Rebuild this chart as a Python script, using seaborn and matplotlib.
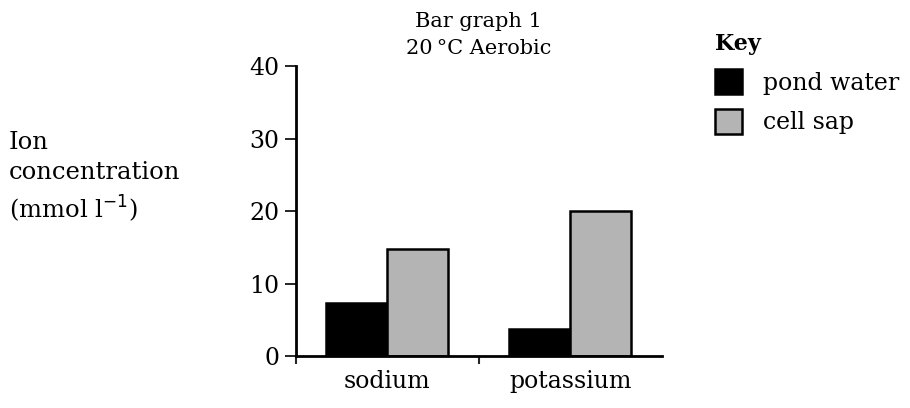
import pandas as pd
import matplotlib
matplotlib.use("Agg")
import matplotlib.pyplot as plt
import seaborn as sns

# data
ions = ["sodium", "potassium"]
pond_water = [7.3, 3.7]
cell_sap = [14.8, 20.0]
y_ticks = [0, 10, 20, 30, 40]

df = pd.DataFrame({
    "ion": ions * 2,
    "value": pond_water + cell_sap,
    "source": ["pond water"] * 2 + ["cell sap"] * 2,
})

sns.set_theme(style="white")
plt.rcParams["font.family"] = ["DejaVu Serif"]
plt.rcParams["text.color"] = "black"

fig = plt.figure(figsize=(9.1, 4.08), dpi=100)
ax = fig.add_axes([0.325, 0.1275, 0.402, 0.71])

sns.barplot(data=df, x="ion", y="value", hue="source",
            palette={"pond water": "black", "cell sap": "#b4b4b4"},
            width=0.67, edgecolor="black", linewidth=1.8, ax=ax)

ax.set_xlim(-0.5, 1.5)
ax.set_ylim(0, 40)
ax.set_yticks(y_ticks)
ax.set_xlabel("")
ax.set_ylabel("")
sns.despine(ax=ax)
for s in ["left", "bottom"]:
    ax.spines[s].set_linewidth(2)
    ax.spines[s].set_color("black")

ax.tick_params(axis="y", direction="out", length=8, width=1.2, labelsize=17, pad=4,
               left=True, colors="black")
ax.tick_params(axis="x", which="major", length=0, labelsize=17, pad=10, colors="black")
ax.set_xticks([-0.5, 0.5], minor=True)
ax.tick_params(axis="x", which="minor", direction="out", length=6, width=1.5, bottom=True)

ax.set_title("Bar graph 1\n20\u2009°C Aerobic", fontsize=15, pad=9, linespacing=1.55,
             color="black")

leg = ax.legend(title="Key", loc="upper left", bbox_to_anchor=(1.145, 1.115),
                frameon=False, fontsize=17, handlelength=1.15, handleheight=1.25,
                handletextpad=0.9, labelspacing=0.6, borderaxespad=0, borderpad=0)
leg.get_title().set_fontweight("bold")
leg.get_title().set_fontsize(16)
leg._legend_box.align = "left"
for t in leg.get_texts():
    t.set_color("black")

fig.text(0.01, 0.565, "Ion\nconcentration\n(mmol l$^{-1}$)", fontsize=17.5,
         ha="left", va="center", linespacing=1.4, color="black")

fig.savefig("out.png", dpi=100)
